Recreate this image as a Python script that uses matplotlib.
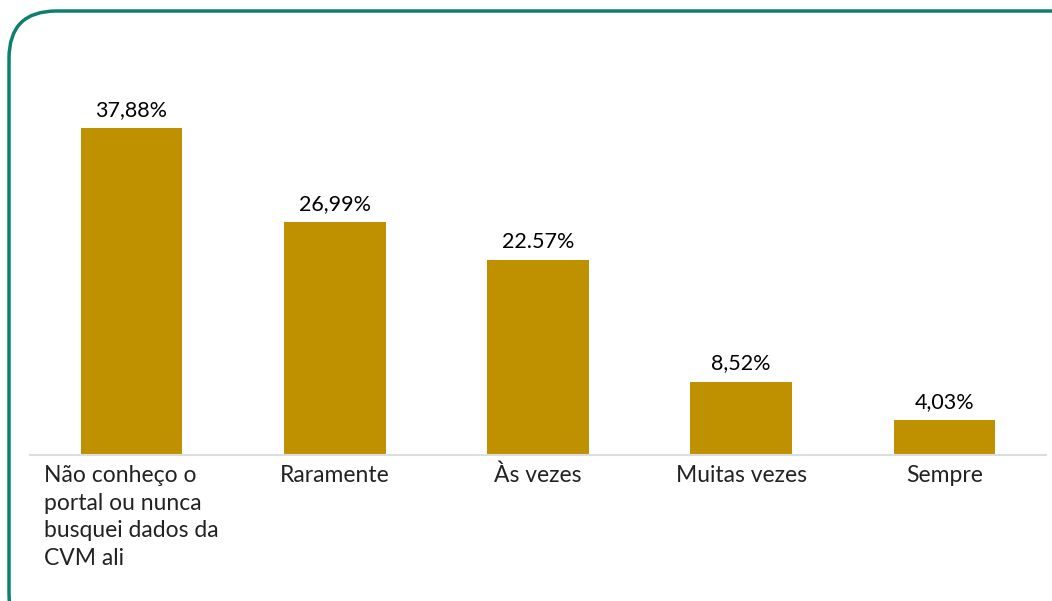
import matplotlib
matplotlib.use("Agg")
import matplotlib.pyplot as plt
from matplotlib.patches import FancyBboxPatch

categories = ["Não conheço o\nportal ou nunca\nbusquei dados da\nCVM ali",
              "Raramente", "Às vezes", "Muitas vezes", "Sempre"]
values = [37.88, 26.99, 22.57, 8.52, 4.03]
value_labels = ["37,88%", "26,99%", "22.57%", "8,52%", "4,03%"]

bar_color = "#BF9000"
border_color = "#0E7F6E"

plt.rcParams['font.family'] = ['Lato', 'DejaVu Sans']

W, H = 1052, 601
fig = plt.figure(figsize=(W / 100, H / 100), dpi=100)
fig.patch.set_facecolor("white")

# rounded frame, running off the right and bottom edges
frame = FancyBboxPatch((9 / W, -40 / H), (W + 40) / W, (H - 11 + 40) / H,
                       boxstyle="round,pad=0,rounding_size=0.045",
                       transform=fig.transFigure, facecolor="white",
                       edgecolor=border_color, linewidth=2.5,
                       mutation_aspect=W / H, clip_on=False, zorder=-1)
fig.add_artist(frame)

ax = fig.add_axes([30 / W, (H - 455) / H, 1016 / W, 345 / H])
ax.set_facecolor("none")
x = range(len(values))
bars = ax.bar(x, values, width=0.5, color=bar_color)
ax.set_xlim(-0.5, 4.5)
ax.set_ylim(0, 40)

for b, lab in zip(bars, value_labels):
    ax.annotate(lab, (b.get_x() + b.get_width() / 2, b.get_height()),
                xytext=(0, 6), textcoords="offset points",
                ha="center", va="bottom", fontsize=15.5, color="black")

for s in ["top", "right", "left"]:
    ax.spines[s].set_visible(False)
ax.spines["bottom"].set_color("#D9DEE3")
ax.spines["bottom"].set_linewidth(1.5)
ax.set_yticks([])
ax.set_xticks(list(x))
ax.set_xticklabels(categories, fontsize=16.5, color="#222222",
                   linespacing=1.4, va="top", multialignment="left")
ax.tick_params(axis="x", length=0, pad=7)

fig.savefig("out.png", dpi=100, facecolor="white")
